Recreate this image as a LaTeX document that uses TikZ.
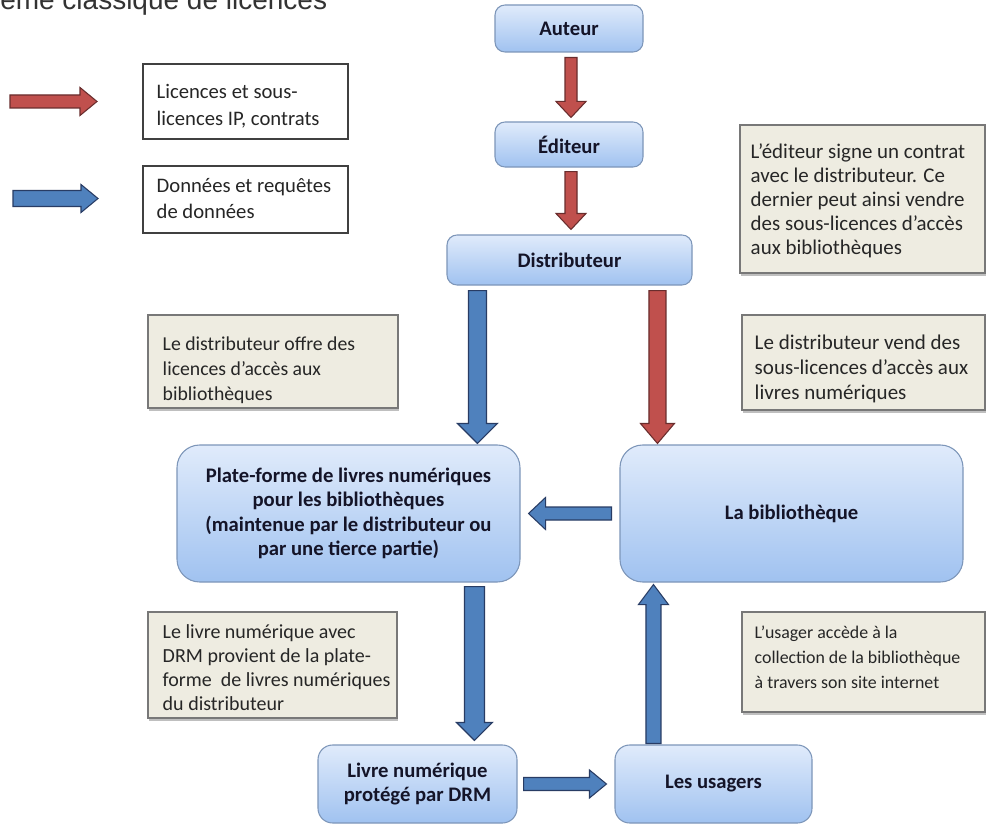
\documentclass[tikz,border=0pt]{standalone}
\usepackage{fontspec}
\setmainfont{Carlito}
\newfontfamily\titlefont{Liberation Sans}
\usetikzlibrary{calc,fit,shadows}
\definecolor{boxtop}{RGB}{224,235,251}
\definecolor{boxbot}{RGB}{160,194,240}
\definecolor{boxline}{RGB}{125,150,185}
\definecolor{redfill}{RGB}{192,80,77}
\definecolor{redline}{RGB}{105,45,45}
\definecolor{bluefill}{RGB}{79,129,189}
\definecolor{blueline}{RGB}{40,60,100}
\definecolor{notefill}{RGB}{238,236,225}
\definecolor{noteline}{RGB}{120,120,120}
\definecolor{txt}{RGB}{20,20,40}
\def\px{0.75pt}
% vertical block arrow: style, from, to, shaft half width, head half width, head length (px)
\newcommand\varrow[6]{%
  \draw[#1] let \p1=(#2), \p2=(#3), \n1={sign(\y2-\y1)} in
   ({\x1-#4*\px},\y1) -- ({\x1-#4*\px},{\y2-(\n1)*#6*\px}) -- ({\x1-#5*\px},{\y2-(\n1)*#6*\px}) -- (\x1,\y2)
   -- ({\x1+#5*\px},{\y2-(\n1)*#6*\px}) -- ({\x1+#4*\px},{\y2-(\n1)*#6*\px}) -- ({\x1+#4*\px},\y1) -- cycle;}
% horizontal block arrow
\newcommand\harrow[6]{%
  \draw[#1] let \p1=(#2), \p2=(#3), \n1={sign(\x2-\x1)} in
   (\x1,{\y1-#4*\px}) -- ({\x2-(\n1)*#6*\px},{\y1-#4*\px}) -- ({\x2-(\n1)*#6*\px},{\y1-#5*\px}) -- (\x2,\y1)
   -- ({\x2-(\n1)*#6*\px},{\y1+#5*\px}) -- ({\x2-(\n1)*#6*\px},{\y1+#4*\px}) -- (\x1,{\y1+#4*\px}) -- cycle;}
\tikzset{
  flowbox/.style 2 args={draw=boxline, line width=0.8pt, rounded corners=7.5pt, top color=boxtop,
    bottom color=boxbot, inner sep=0pt, align=center, text=txt,
    minimum width=#1*\px, minimum height=#2*\px,
    font=\fontsize{15.5}{18.3}\selectfont\bfseries},
  notebox/.style={draw=noteline, line width=0.8pt, fill=notefill, inner sep=0pt,
    drop shadow={shadow xshift=1pt, shadow yshift=-2.5pt, fill=black!50}},
  notetext/.style={anchor=west, inner sep=0pt, align=left, text=black!85,
    font=\fontsize{15.7}{18}\selectfont},
  legbox/.style={draw=black!75, line width=0.9pt, fill=white, inner sep=0pt},
  legtext/.style={anchor=west, inner sep=0pt, align=left, text=black!85,
    font=\fontsize{15.5}{20}\selectfont},
  redarr/.style={fill=redfill, draw=redline, line width=0.8pt},
  bluearr/.style={fill=bluefill, draw=blueline, line width=0.8pt},
}
\begin{document}
\begin{tikzpicture}[x=0.75pt,y=-0.75pt]
\useasboundingbox (0,0) rectangle (986,824);
\fill[white] (0,0) rectangle (986,824);

% title (cut at top, as in the reference)
\node[anchor=base west, inner sep=0pt, text=black!80, font=\titlefont\fontsize{21}{24}\selectfont] (title) at (0,10) {ème classique de licences};

% legend
\coordinate (lrs) at (10,101.5);
\coordinate (lre) at (97,101.5);
\coordinate (lbs) at (13,198.5);
\coordinate (lbe) at (98,198.5);
\harrow{redarr}{lrs}{lre}{6.5}{14}{17}
\harrow{bluearr}{lbs}{lbe}{8}{14}{17}
\node[legbox, fit={(143,64) (348,139)}] (leg1) {};
\node[legtext] (leg1t) at ($(leg1.west)+(14,5)$) {Licences et sous-\\licences IP, contrats};
\node[legbox, fit={(143,166) (348,233)}] (leg2) {};
\node[legtext] (leg2t) at ($(leg2.west)+(14,-1)$) {Données et requêtes\\de données};

% flow boxes
\node[flowbox={148}{47}] (auteur) at (569,28.5) {Auteur};
\node[flowbox={148}{45}] (editeur) at (569,144.5) {Éditeur};
\node[flowbox={245}{50}] (distrib) at (569.5,260) {Distributeur};
\node[flowbox={343}{137}, rounded corners=17pt] (plate) at (348.5,513.5)
  {Plate-forme de livres numériques\\pour les bibliothèques\\(maintenue par le distributeur ou\\par une tierce partie)};
\node[flowbox={343}{137}, rounded corners=17pt] (biblio) at (791.5,513.5) {La bibliothèque};
\node[flowbox={199}{78}, rounded corners=11pt] (livre) at (417.5,784) {Livre numérique\\protégé par DRM};
\node[flowbox={197}{78}, rounded corners=11pt] (usagers) at (713.5,784) {Les usagers};

% notes
\node[notebox, fit={(740,125) (985,273)}] (n1) {};
\node[notetext] (n1t) at ($(n1.west)+(11,2)$)
  {L’éditeur signe un contrat\\avec le distributeur. Ce\\dernier peut ainsi vendre\\des sous-licences d’accès\\aux bibliothèques};
\node[notebox, fit={(148,315) (398,408)}] (n2) {};
\node[notetext, font=\fontsize{14.8}{18.75}\selectfont] (n2t) at ($(n2.west)+(15,9)$)
  {Le distributeur offre des\\licences d’accès aux\\bibliothèques};
\node[notebox, fit={(742,315) (985,410)}] (n3) {};
\node[notetext, font=\fontsize{15.75}{18.75}\selectfont] (n3t) at ($(n3.west)+(13,6)$)
  {Le distributeur vend des\\sous-licences d’accès aux\\livres numériques};
\node[notebox, fit={(148,612) (397,718)}] (n4) {};
\node[notetext, font=\fontsize{15}{18}\selectfont] (n4t) at ($(n4.west)+(15,3)$)
  {Le livre numérique avec\\DRM provient de la plate-\\forme~ de livres numériques\\du distributeur};
\node[notebox, fit={(742,612) (985,712)}] (n5) {};
\node[notetext, font=\fontsize{13.4}{18.75}\selectfont] (n5t) at ($(n5.west)+(13,-5)$)
  {L’usager accède à la\\collection de la bibliothèque\\à travers son site internet};

% connectors
\varrow{redarr}{$(auteur.south)+(2,5)$}{$(editeur.north)+(0,-4)$}{6}{15}{16}
\varrow{redarr}{$(editeur.south)+(2,4)$}{$(distrib.north)+(0,-5)$}{6}{15}{16}
\varrow{bluearr}{$(distrib.south west)+(31,5)$}{$(plate.north)+(0,-1)$}{9}{20}{20}
\varrow{redarr}{$(distrib.south west)+(211,5)$}{$(biblio.north)+(0,-1)$}{8.5}{17}{20}
\harrow{bluearr}{$(biblio.west)+(-8,0)$}{$(plate.east)+(8,0)$}{6.5}{16}{17}
\varrow{bluearr}{$(plate.south west)+(298,4)$}{$(livre.north)+(0,-4)$}{10}{18}{18}
\harrow{bluearr}{$(livre.east)+(6,0)$}{$(usagers.west)+(-8,0)$}{6.5}{14}{17}
\varrow{bluearr}{$(usagers.north west)+(39,-1)$}{$(biblio.south)+(0,2)$}{7.5}{15}{20}
\end{tikzpicture}
\end{document}
